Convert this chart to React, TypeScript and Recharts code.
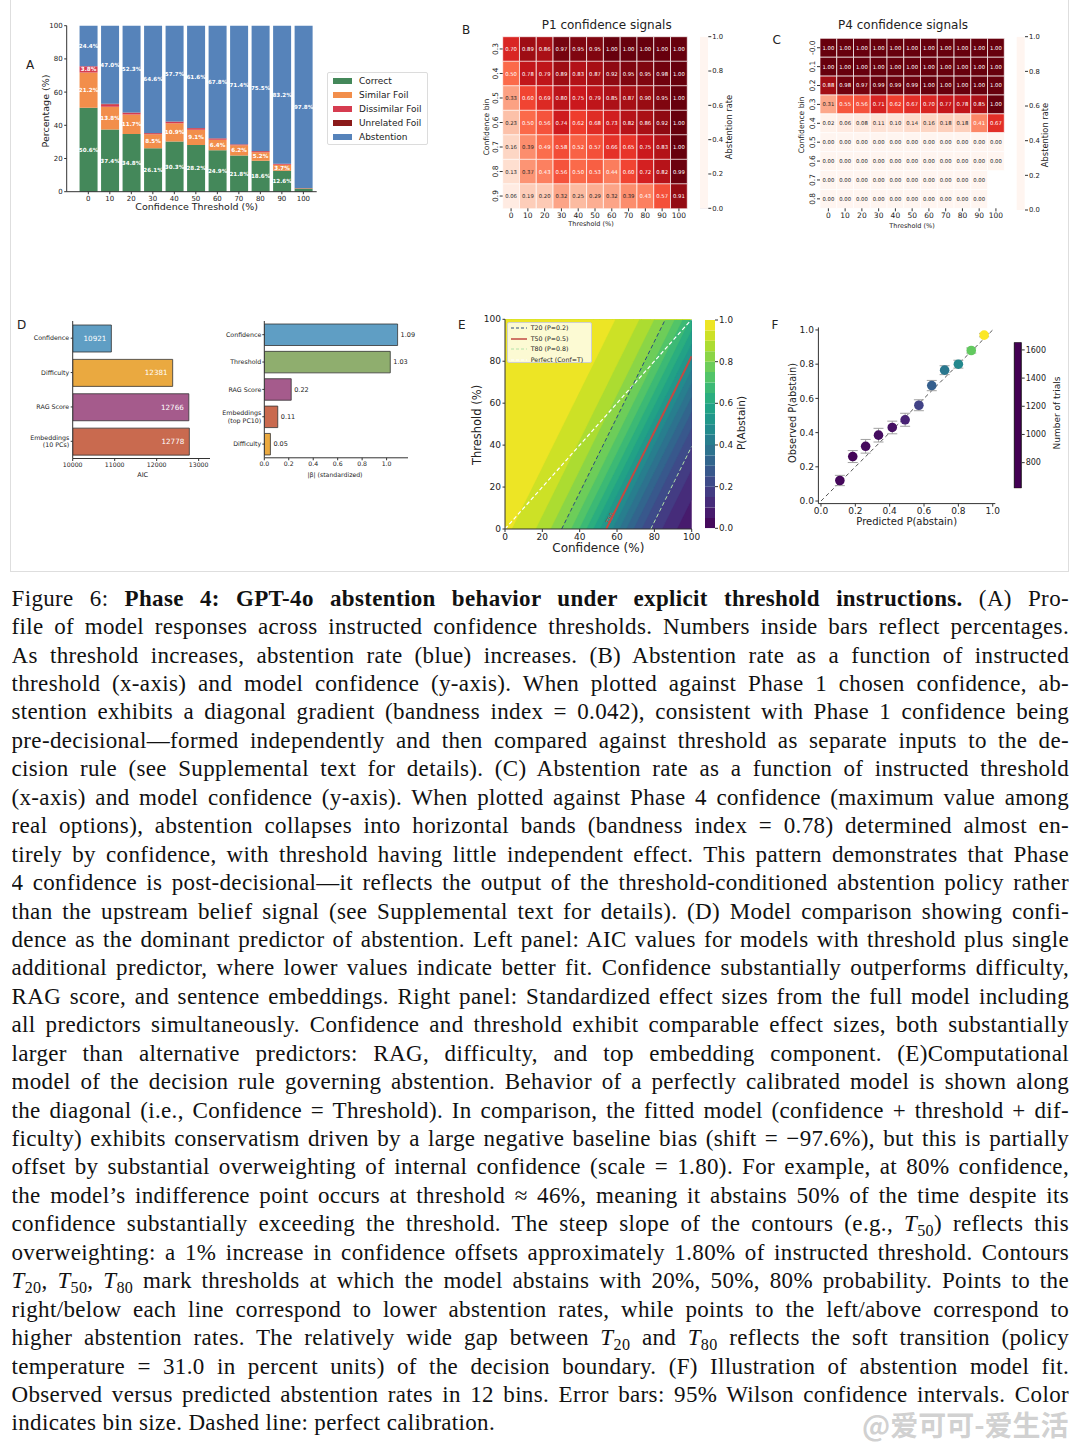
import React from 'react';
import {
  BarChart, Bar, XAxis, YAxis, Cell, LabelList, ComposedChart, Area, Line,
  ScatterChart, Scatter, ErrorBar, ReferenceLine,
} from 'recharts';

const FONT = '"DejaVu Sans", sans-serif';
const INK = '#222';
const AX = '#333';

// ---------------- Panel A data ----------------
const thresholdLevels = [0, 10, 20, 30, 40, 50, 60, 70, 80, 90, 100];
const correctPct = [50.6, 37.4, 34.8, 26.1, 30.3, 28.2, 24.9, 21.8, 18.6, 12.6, 2.0];
const similarFoilPct = [21.2, 13.8, 11.7, 8.5, 10.9, 9.1, 6.4, 6.2, 5.2, 3.7, 0.1];
const dissimilarFoilPct = [3.8, 1.5, 1.0, 0.6, 0.9, 0.9, 0.7, 0.5, 0.5, 0.4, 0.1];
const unrelatedFoilPct = [0.0, 0.3, 0.2, 0.2, 0.2, 0.2, 0.2, 0.1, 0.2, 0.1, 0.0];
const abstentionPct = [24.4, 47.0, 52.3, 64.6, 57.7, 61.6, 67.8, 71.4, 75.5, 83.2, 97.8];
const outcomeNames = ['Correct', 'Similar Foil', 'Dissimilar Foil', 'Unrelated Foil', 'Abstention'];
const outcomeKeys = ['correct', 'similar', 'dissimilar', 'unrelated', 'abstention'];
const outcomeColors = ['#44885a', '#f28e4b', '#d63c50', '#8b1a1a', '#5683ba'];

// ---------------- Panel B / C data ----------------
const p1Bins = ['0.3', '0.4', '0.5', '0.6', '0.7', '0.8', '0.9'];
const p1Rates = [
  [0.70, 0.89, 0.86, 0.97, 0.95, 0.95, 1.00, 1.00, 1.00, 1.00, 1.00],
  [0.50, 0.78, 0.79, 0.89, 0.83, 0.87, 0.92, 0.95, 0.95, 0.98, 1.00],
  [0.33, 0.60, 0.69, 0.80, 0.75, 0.79, 0.85, 0.87, 0.90, 0.95, 1.00],
  [0.23, 0.50, 0.56, 0.74, 0.62, 0.68, 0.73, 0.82, 0.86, 0.92, 1.00],
  [0.16, 0.39, 0.49, 0.58, 0.52, 0.57, 0.66, 0.65, 0.75, 0.83, 1.00],
  [0.13, 0.37, 0.43, 0.56, 0.50, 0.53, 0.44, 0.60, 0.72, 0.82, 0.99],
  [0.06, 0.19, 0.20, 0.32, 0.25, 0.29, 0.32, 0.39, 0.43, 0.57, 0.91],
];
const p4Bins = ['-0.0', '0.1', '0.2', '0.3', '0.4', '0.5', '0.6', '0.7', '0.8'];
const p4Rates = [
  [1.00, 1.00, 1.00, 1.00, 1.00, 1.00, 1.00, 1.00, 1.00, 1.00, 1.00],
  [1.00, 1.00, 1.00, 1.00, 1.00, 1.00, 1.00, 1.00, 1.00, 1.00, 1.00],
  [0.88, 0.98, 0.97, 0.99, 0.99, 0.99, 1.00, 1.00, 1.00, 1.00, 1.00],
  [0.31, 0.55, 0.56, 0.71, 0.62, 0.67, 0.70, 0.77, 0.78, 0.85, 1.00],
  [0.02, 0.06, 0.08, 0.11, 0.10, 0.14, 0.16, 0.18, 0.18, 0.41, 0.67],
  [0.00, 0.00, 0.00, 0.00, 0.00, 0.00, 0.00, 0.00, 0.00, 0.00, 0.00],
  [0.00, 0.00, 0.00, 0.00, 0.00, 0.00, 0.00, 0.00, 0.00, 0.00, 0.00],
  [0.00, 0.00, 0.00, 0.00, 0.00, 0.00, 0.00, 0.00, 0.00, 0.00, null],
  [0.00, 0.00, 0.00, 0.00, 0.00, 0.00, 0.00, 0.00, 0.00, 0.00, null],
];
const rateTicks = [0, 0.2, 0.4, 0.6, 0.8, 1.0];

// ---------------- Panel D data ----------------
const aicPredictors = ['Confidence', 'Difficulty', 'RAG Score', 'Embeddings\n(10 PCs)'];
const aicValues = [10921, 12381, 12766, 12778];
const aicColors = ['#5f9ec4', '#eaa940', '#a55b8c', '#c96a4f'];
const aicTicks = [10000, 11000, 12000, 13000];
const betaPredictors = ['Confidence', 'Threshold', 'RAG Score', 'Embeddings\n(top PC10)', 'Difficulty'];
const betaValues = [1.09, 1.03, 0.22, 0.11, 0.05];
const betaColors = ['#5f9ec4', '#8fae6e', '#a55b8c', '#c96a4f', '#eaa940'];
const betaTicks = [0, 0.2, 0.4, 0.6, 0.8, 1.0];

// ---------------- Panel E model (fitted parameters from the caption) ----------------
const modelShift = -97.6;
const modelScale = 1.8;
const modelTemp = 31.0;
const contourLevels = [0, 0.05, 0.1, 0.15, 0.2, 0.25, 0.3, 0.35, 0.4, 0.45, 0.5, 0.55, 0.6, 0.65, 0.7, 0.75, 0.8, 0.85, 0.9, 0.95, 1];
const namedContours = [0.2, 0.5, 0.8];
const pctTicks = [0, 20, 40, 60, 80, 100];

// ---------------- Panel F data ----------------
const predictedP = [0.11, 0.185, 0.26, 0.335, 0.415, 0.49, 0.57, 0.645, 0.72, 0.80, 0.875, 0.95];
const observedP = [0.12, 0.26, 0.32, 0.385, 0.43, 0.475, 0.56, 0.675, 0.765, 0.80, 0.88, 0.97];
const ciHalfWidth = [0.03, 0.035, 0.04, 0.04, 0.037, 0.038, 0.032, 0.03, 0.026, 0.023, 0.015, 0.01];
const binTrials = [640, 630, 645, 655, 665, 720, 820, 930, 1030, 1100, 1400, 1650];
const trialsRange = [618, 1654];
const trialTicks = [800, 1000, 1200, 1400, 1600];
const probTicks = [0, 0.2, 0.4, 0.6, 0.8, 1.0];

// ---------------- colour maps ----------------
const REDS = ['#fff5f0', '#fee0d2', '#fcbba1', '#fc9272', '#fb6a4a', '#ef3b2c', '#cb181d', '#a50f15', '#67000d'];
const VIRIDIS = ['#440154', '#482475', '#414487', '#355f8d', '#2a788e', '#21918c', '#22a884', '#44bf70', '#7ad151', '#bddf26', '#fde725'];
function hexRgb(h: string) {
  return [parseInt(h.slice(1, 3), 16), parseInt(h.slice(3, 5), 16), parseInt(h.slice(5, 7), 16)];
}
function cmap(stops: string[], t: number) {
  const tt = Math.max(0, Math.min(1, t));
  const n = stops.length - 1;
  const i = Math.min(n - 1, Math.floor(tt * n));
  const f = tt * n - i;
  const a = hexRgb(stops[i]);
  const b = hexRgb(stops[i + 1]);
  const c = a.map((v, k) => Math.round(v + (b[k] - v) * f));
  return `rgb(${c[0]},${c[1]},${c[2]})`;
}
const reds = (t: number) => cmap(REDS, t);
const viridis = (t: number) => cmap(VIRIDIS, t);

// ---------------- helpers ----------------
function Txt({ x, y, size, rot = 0, children, weight = 400, color = INK, family }: any) {
  return (
    <div style={{
      position: 'absolute', left: x, top: y, transform: `translate(-50%,-50%) rotate(${rot}deg)`,
      fontSize: size, lineHeight: 1, whiteSpace: 'nowrap', color, fontWeight: weight, fontFamily: family,
    }}>{children}</div>
  );
}

const tickStyle = (size: number) => ({ fontSize: size, fill: INK, fontFamily: FONT });

// ---------------- Panel A ----------------
const dataA = thresholdLevels.map((t, i) => ({
  t, correct: correctPct[i], similar: similarFoilPct[i], dissimilar: dissimilarFoilPct[i],
  unrelated: unrelatedFoilPct[i], abstention: abstentionPct[i],
}));

function pctLabel(props: any) {
  const { x, y, width, height, value } = props;
  const v = Number(value);
  if (!(v >= 3)) return null;
  return (
    <text x={Number(x) + Number(width) / 2} y={Number(y) + Number(height) / 2} dy="0.35em"
      textAnchor="middle" fontSize={5.6} fill="#fff" fontWeight={600} fontFamily={FONT}>{v.toFixed(1)}%</text>
  );
}

function PanelA() {
  return (
    <>
      <div style={{ position: 'absolute', left: 20, top: 15 }}>
        <BarChart width={310} height={205} data={dataA} margin={{ top: 10.7, right: 13.3, bottom: 0, left: 0 }}>
          <XAxis type="number" dataKey="t" domain={[-10.05, 106.2]} ticks={thresholdLevels} interval={0}
            allowDataOverflow height={28.3} tickSize={2.5} tickMargin={1.5} tick={tickStyle(7)} stroke={AX} />
          <YAxis type="number" domain={[0, 100]} ticks={pctTicks} interval={0} width={46.7}
            tickSize={2.5} tickMargin={1.5} tick={tickStyle(7)} stroke={AX} />
          {outcomeKeys.map((k, i) => (
            <Bar key={k} dataKey={k} stackId="a" fill={outcomeColors[i]} barSize={18} isAnimationActive={false}>
              <LabelList dataKey={k} content={pctLabel} />
            </Bar>
          ))}
        </BarChart>
      </div>
      <Txt x={30} y={65} size={12}>A</Txt>
      <Txt x={46} y={111} size={9.5} rot={-90}>Percentage (%)</Txt>
      <Txt x={196.7} y={207.3} size={9.5}>Confidence Threshold (%)</Txt>
      <div style={{
        position: 'absolute', left: 327, top: 71.7, width: 101, height: 73.3, border: '1px solid #dcdcdc',
        borderRadius: 2, background: '#fff', boxSizing: 'border-box', fontSize: 9, color: INK,
      }}>
        {outcomeNames.map((n, i) => (
          <div key={n} style={{ position: 'absolute', left: 0, top: 8.3 + 13.93 * i - 6, height: 12, width: 99 }}>
            <div style={{ position: 'absolute', left: 4.5, top: 3.3, width: 19, height: 5.6, background: outcomeColors[i] }} />
            <div style={{ position: 'absolute', left: 31, top: 0, lineHeight: '12px', whiteSpace: 'nowrap' }}>{n}</div>
          </div>
        ))}
      </div>
    </>
  );
}

// ---------------- Heatmaps (B, C) ----------------
function RotTick(props: any) {
  const { x, y, payload } = props;
  return (
    <text x={x} y={y} transform={`rotate(-90 ${x} ${y})`} textAnchor="middle" fontSize={7.5} fill={INK} fontFamily={FONT}>
      {payload.value}
    </text>
  );
}

function cellLabel(props: any) {
  const { x, y, width, height, value } = props;
  if (value === null || value === undefined) return null;
  const v = Number(value);
  return (
    <text x={Number(x) + Number(width) / 2} y={Number(y) + Number(height) / 2} dy="0.35em" textAnchor="middle"
      fontSize={5.3} fill={v >= 0.4 ? '#fff' : '#262626'} fontFamily={FONT}>{v.toFixed(2)}</text>
  );
}

function Heatmap({ bins, rates, left, top, width, height, margin, yAxisWidth, xAxisHeight }: any) {
  const data = bins.map((b: string, r: number) => {
    const row: any = { bin: b };
    rates[r].forEach((v: number | null, j: number) => {
      row['c' + j] = v === null ? 0 : 1;
      row['v' + j] = v;
    });
    return row;
  });
  const cellTicks = thresholdLevels.map((_, j) => j + 0.5);
  return (
    <div style={{ position: 'absolute', left, top }}>
      <BarChart layout="vertical" width={width} height={height} data={data} margin={margin} barCategoryGap={0}>
        <XAxis type="number" domain={[0, thresholdLevels.length]} ticks={cellTicks} interval={0}
          tickFormatter={(v: number) => String(thresholdLevels[Math.floor(v)])}
          height={xAxisHeight} axisLine={false} tickSize={3} tickMargin={1.5} tick={tickStyle(7.5)} stroke={AX} />
        <YAxis type="category" dataKey="bin" width={yAxisWidth} axisLine={false} tickSize={3} tickMargin={1.5}
          tick={<RotTick />} stroke={AX} interval={0} />
        {thresholdLevels.map((t, j) => (
          <Bar key={t} dataKey={'c' + j} stackId="h" isAnimationActive={false} stroke="#fff" strokeWidth={0.7}>
            {data.map((row: any, r: number) => (
              <Cell key={r} fill={rates[r][j] === null ? 'transparent' : reds(rates[r][j])}
                stroke={rates[r][j] === null ? 'none' : '#fff'} />
            ))}
            <LabelList dataKey={'v' + j} content={cellLabel} />
          </Bar>
        ))}
      </BarChart>
    </div>
  );
}

function RedsColorBar({ left, top, width, height, margin, axisWidth, id }: any) {
  return (
    <div style={{ position: 'absolute', left, top }}>
      <BarChart width={width} height={height} data={[{ k: 'cb', v: [0, 1] }]} margin={margin} barCategoryGap={0}>
        <defs>
          <linearGradient id={id} x1="0" y1="0" x2="0" y2="1">
            {REDS.map((c, i) => <stop key={i} offset={1 - i / (REDS.length - 1)} stopColor={c} />)}
          </linearGradient>
        </defs>
        <XAxis dataKey="k" hide />
        <YAxis orientation="right" type="number" domain={[0, 1]} ticks={rateTicks} interval={0} width={axisWidth}
          axisLine={false} tickSize={3} tickMargin={1} tickFormatter={(v: number) => v.toFixed(1)}
          tick={tickStyle(6.8)} stroke={AX} allowDataOverflow />
        <Bar dataKey="v" fill={`url(#${id})`} isAnimationActive={false} />
      </BarChart>
    </div>
  );
}

function PanelB() {
  return (
    <>
      <Heatmap bins={p1Bins} rates={p1Rates} left={480} top={30} width={215} height={210}
        margin={{ top: 6.7, right: 7.7, bottom: 0, left: 0 }} yAxisWidth={22.7} xAxisHeight={31.7} />
      <RedsColorBar id="redsB" left={695} top={30} width={50} height={210}
        margin={{ top: 6.7, right: 0, bottom: 31.7, left: 5 }} axisWidth={36.7} />
      <Txt x={466} y={30} size={12}>B</Txt>
      <Txt x={606.7} y={24.5} size={12}>P1 confidence signals</Txt>
      <Txt x={486.7} y={126.7} size={7.6} rot={-90}>Confidence bin</Txt>
      <Txt x={591} y={224.3} size={6.5}>Threshold (%)</Txt>
      <Txt x={729} y={126.7} size={8.3} rot={-90}>Abstention rate</Txt>
    </>
  );
}

function PanelC() {
  return (
    <>
      <Heatmap bins={p4Bins} rates={p4Rates} left={795} top={30} width={215} height={210}
        margin={{ top: 8.3, right: 5.7, bottom: 0, left: 0 }} yAxisWidth={25} xAxisHeight={31.7} />
      <RedsColorBar id="redsC" left={1010} top={30} width={60} height={210}
        margin={{ top: 6.7, right: 0, bottom: 30, left: 6.7 }} axisWidth={45} />
      <Txt x={776.7} y={40} size={12}>C</Txt>
      <Txt x={903} y={24.5} size={12}>P4 confidence signals</Txt>
      <Txt x={801.7} y={125} size={7.6} rot={-90}>Confidence bin</Txt>
      <Txt x={912} y={225.7} size={6.5}>Threshold (%)</Txt>
      <Txt x={1045} y={135} size={8.3} rot={-90}>Abstention rate</Txt>
    </>
  );
}

// ---------------- Panel D ----------------
function MultiTick(props: any) {
  const { x, y, payload } = props;
  const lines = String(payload.value).split('\n');
  const lh = 7.4;
  return (
    <text x={x} y={y} textAnchor="end" fontSize={6.3} fill={INK} fontFamily={FONT}>
      {lines.map((l, i) => (
        <tspan key={i} x={x} dy={i === 0 ? -((lines.length - 1) * lh) / 2 + 2.2 : lh}>{l}</tspan>
      ))}
    </text>
  );
}

function PanelD() {
  const aicBase = aicTicks[0];
  const dataL = aicPredictors.map((p, i) => ({ p, range: [aicBase, aicValues[i]], v: aicValues[i] }));
  const dataR = betaPredictors.map((p, i) => ({ p, v: betaValues[i] }));
  return (
    <>
      <div style={{ position: 'absolute', left: 10, top: 310 }}>
        <BarChart layout="vertical" width={210} height={175} data={dataL} margin={{ top: 11, right: 10, bottom: 0, left: 0 }}>
          <XAxis type="number" domain={[10000, 13270]} ticks={aicTicks} interval={0} allowDataOverflow height={26.5}
            tickSize={2.5} tickMargin={1.5} tick={tickStyle(6.2)} stroke={AX} />
          <YAxis type="category" dataKey="p" width={62.7} tickSize={2} tickMargin={1.5} tick={<MultiTick />} stroke={AX} interval={0} />
          <Bar dataKey="range" barSize={27} stroke="#333" strokeWidth={0.8} isAnimationActive={false}>
            {dataL.map((d, i) => <Cell key={i} fill={aicColors[i]} />)}
            <LabelList dataKey="v" position="insideRight" offset={5} fill="#fff" fontSize={7.2} fontFamily={FONT} />
          </Bar>
        </BarChart>
      </div>
      <div style={{ position: 'absolute', left: 210, top: 310 }}>
        <BarChart layout="vertical" width={210} height={175} data={dataR} margin={{ top: 11, right: 12, bottom: 0, left: 0 }}>
          <XAxis type="number" domain={[0, 1.175]} ticks={betaTicks} interval={0} allowDataOverflow height={27.2}
            tickFormatter={(v: number) => v.toFixed(1)} tickSize={2.5} tickMargin={1.5} tick={tickStyle(6.2)} stroke={AX} />
          <YAxis type="category" dataKey="p" width={54.3} tickSize={2} tickMargin={1} tick={<MultiTick />} stroke={AX} interval={0} />
          <Bar dataKey="v" barSize={21.5} stroke="#333" strokeWidth={0.8} isAnimationActive={false}>
            {dataR.map((d, i) => <Cell key={i} fill={betaColors[i]} />)}
            <LabelList dataKey="v" position="right" offset={3} fill={INK} fontSize={6.5} fontFamily={FONT}
              formatter={(v: any) => Number(v).toFixed(2)} />
          </Bar>
        </BarChart>
      </div>
      <Txt x={21.7} y={325} size={12}>D</Txt>
      <Txt x={142.7} y={475} size={6.5}>AIC</Txt>
      <Txt x={335} y={475} size={6.2}>|β| (standardized)</Txt>
    </>
  );
}

// ---------------- Panel E ----------------
const logit = (p: number) => Math.log(p / (1 - p));
const boundaryT = (c: number, p: number) => modelScale * c + modelShift + modelTemp * logit(p);
const crossC = (t: number, p: number) => (t - modelShift - modelTemp * logit(p)) / modelScale;

function buildE() {
  const ps = [...contourLevels.slice(1, -1), ...namedContours];
  const grid = new Set<number>([0, 100]);
  ps.forEach((p) => [0, 100].forEach((t) => {
    const c = crossC(t, p);
    if (c > 0 && c < 100) grid.add(Number(c.toFixed(6)));
  }));
  const cs = Array.from(grid).sort((a, b) => a - b);
  const onPlot = (t: number) => (t >= -1e-6 && t <= 100 + 1e-6 ? Math.max(0, Math.min(100, t)) : null);
  return cs.map((c) => {
    const row: any = { c };
    for (let k = 0; k < contourLevels.length - 1; k++) {
      const lo = k === 0 ? 0 : Math.max(0, Math.min(100, boundaryT(c, contourLevels[k])));
      row['b' + k] = [lo, 100];
    }
    row.lower = onPlot(boundaryT(c, namedContours[0]));
    row.mid = onPlot(boundaryT(c, namedContours[1]));
    row.upper = onPlot(boundaryT(c, namedContours[2]));
    row.perfect = c;
    return row;
  });
}
const dataE = buildE();
const bandColors = contourLevels.slice(0, -1).map((l, k) => viridis((k + 0.5) / (contourLevels.length - 1)));
const DARK_DASH = '#2b4c7e';
const LIGHT_DASH = '#b4e2aa';
const T50_RED = '#c24a43';

function PanelE() {
  const cbRow: any = { k: 'cb' };
  bandColors.forEach((_, k) => { cbRow['s' + k] = contourLevels[k + 1] - contourLevels[k]; });
  return (
    <>
      <div style={{ position: 'absolute', left: 460, top: 310 }}>
        <ComposedChart width={240} height={250} data={dataE} margin={{ top: 9.3, right: 8.3, bottom: 0, left: 0 }}>
          <XAxis type="number" dataKey="c" domain={[0, 100]} ticks={pctTicks} interval={0} allowDataOverflow height={31}
            tickSize={3} tickMargin={1.5} tick={tickStyle(9)} stroke={AX} />
          <YAxis type="number" domain={[0, 100]} ticks={pctTicks} interval={0} allowDataOverflow width={45}
            tickSize={2.5} tickMargin={1.5} tick={tickStyle(9)} stroke={AX} />
          {bandColors.map((col, k) => (
            <Area key={k} type="linear" dataKey={'b' + k} stroke={col} strokeWidth={0.4} fill={col} fillOpacity={1}
              isAnimationActive={false} dot={false} activeDot={false} />
          ))}
          <Line type="linear" dataKey="perfect" stroke="#ffffff" strokeWidth={1.2} strokeDasharray="4 2.5"
            dot={false} activeDot={false} isAnimationActive={false} />
          <Line type="linear" dataKey="upper" stroke={DARK_DASH} strokeWidth={1} strokeDasharray="4 2.5"
            dot={false} activeDot={false} isAnimationActive={false} connectNulls={false} />
          <Line type="linear" dataKey="lower" stroke={LIGHT_DASH} strokeWidth={1} strokeDasharray="4 2.5"
            dot={false} activeDot={false} isAnimationActive={false} connectNulls={false} />
          <Line type="linear" dataKey="mid" stroke={T50_RED} strokeWidth={2} dot={false} activeDot={false}
            isAnimationActive={false} connectNulls={false} />
        </ComposedChart>
      </div>
      <div style={{ position: 'absolute', left: 700, top: 310 }}>
        <BarChart width={60} height={250} data={[cbRow]} margin={{ top: 10, right: 0, bottom: 31.7, left: 5 }} barCategoryGap={0}>
          <XAxis dataKey="k" hide />
          <YAxis orientation="right" type="number" domain={[0, 1]} ticks={rateTicks} interval={0} width={45}
            allowDataOverflow axisLine={false} tickSize={3} tickMargin={1} tickFormatter={(v: number) => v.toFixed(1)}
            tick={tickStyle(8.8)} stroke={AX} />
          {bandColors.map((col, k) => (
            <Bar key={k} dataKey={'s' + k} stackId="cb" fill={col} isAnimationActive={false} />
          ))}
        </BarChart>
      </div>
      <Txt x={461.7} y={325} size={12}>E</Txt>
      <Txt x={478} y={425} size={11.5} rot={-90}>Threshold (%)</Txt>
      <Txt x={598.3} y={548.3} size={12}>Confidence (%)</Txt>
      <Txt x={741} y={423.3} size={10.5} rot={-90}>P(Abstain)</Txt>
      <Txt x={610} y={518} size={6} rot={-63.7} color={T50_RED}>T50</Txt>
      <div style={{
        position: 'absolute', left: 506.7, top: 321.7, width: 85, height: 41.6, background: 'rgba(255,255,255,0.8)',
        border: '1px solid #cfcfcf', borderRadius: 2, boxSizing: 'border-box', fontSize: 6.3, color: INK,
      }}>
        {[
          { n: 'T20 (P=0.2)', c: DARK_DASH, d: '3 2', w: 1 },
          { n: 'T50 (P=0.5)', c: T50_RED, d: '', w: 1.5 },
          { n: 'T80 (P=0.8)', c: LIGHT_DASH, d: '3 2', w: 1 },
          { n: 'Perfect (Conf=T)', c: '#ffffff', d: '3 2', w: 1 },
        ].map((e, i) => (
          <div key={e.n} style={{ position: 'absolute', left: 0, top: 5.3 + 10.7 * i - 5, height: 10, width: 84 }}>
            <svg width={18} height={10} style={{ position: 'absolute', left: 2.5, top: 0 }}>
              <line x1={1} y1={5} x2={17} y2={5} stroke={e.c} strokeWidth={e.w} strokeDasharray={e.d} />
            </svg>
            <div style={{ position: 'absolute', left: 23, top: 0, lineHeight: '10px', whiteSpace: 'nowrap' }}>{e.n}</div>
          </div>
        ))}
      </div>
    </>
  );
}

// ---------------- Panel F ----------------
function PanelF() {
  const dataF = predictedP.map((x, i) => ({ x, y: observedP[i], err: ciHalfWidth[i], n: binTrials[i] }));
  const norm = (n: number) => (n - trialsRange[0]) / (trialsRange[1] - trialsRange[0]);
  return (
    <>
      <div style={{ position: 'absolute', left: 765, top: 315 }}>
        <ScatterChart width={250} height={225} margin={{ top: 12.4, right: 19.7, bottom: 0, left: 0 }}>
          <XAxis type="number" dataKey="x" domain={[-0.015, 1.015]} ticks={probTicks} interval={0} allowDataOverflow
            height={36.4} tickFormatter={(v: number) => v.toFixed(1)} tickSize={3} tickMargin={1.5} tick={tickStyle(9)} stroke={AX} />
          <YAxis type="number" dataKey="y" domain={[-0.015, 1.015]} ticks={probTicks} interval={0} allowDataOverflow
            width={53.4} tickFormatter={(v: number) => v.toFixed(1)} tickSize={3} tickMargin={1.5} tick={tickStyle(9)} stroke={AX} />
          <ReferenceLine segment={[{ x: 0, y: 0 }, { x: 1, y: 1 }]} stroke="#555" strokeDasharray="4 3" strokeWidth={1} />
          <Scatter data={dataF} isAnimationActive={false}
            shape={(p: any) => <circle cx={p.cx} cy={p.cy} r={4.8} fill={viridis(norm(p.payload.n))} />}>
            <ErrorBar dataKey="err" direction="y" width={5} stroke="#a0a0a0" strokeWidth={1} />
          </Scatter>
        </ScatterChart>
      </div>
      <div style={{ position: 'absolute', left: 1010, top: 335 }}>
        <BarChart width={70} height={160} data={[{ k: 'cb', v: trialsRange }]} margin={{ top: 7.3, right: 0, bottom: 6.7, left: 4.3 }} barCategoryGap={0}>
          <defs>
            <linearGradient id="virF" x1="0" y1="0" x2="0" y2="1">
              {VIRIDIS.map((c, i) => <stop key={i} offset={1 - i / (VIRIDIS.length - 1)} stopColor={c} />)}
            </linearGradient>
          </defs>
          <XAxis dataKey="k" hide />
          <YAxis orientation="right" type="number" domain={trialsRange} ticks={trialTicks} interval={0} width={58.3}
            allowDataOverflow axisLine={false} tickSize={3} tickMargin={1} tick={tickStyle(8)} stroke={AX} />
          <Bar dataKey="v" fill="url(#virF)" stroke="#000" strokeWidth={0.8} isAnimationActive={false} />
        </BarChart>
      </div>
      <Txt x={775} y={325} size={12}>F</Txt>
      <Txt x={793.3} y={413.3} size={9.8} rot={-90}>Observed P(abstain)</Txt>
      <Txt x={906.7} y={522.3} size={10}>Predicted P(abstain)</Txt>
      <Txt x={1056.7} y={413.3} size={9} rot={-90}>Number of trials</Txt>
    </>
  );
}

// ---------------- Caption ----------------
const Ts = ({ n }: any) => (
  <span><i>T</i><span style={{ fontSize: '0.7em', position: 'relative', top: '0.28em' }}>{n}</span></span>
);

const captionLines: React.ReactNode[] = [
  <>Figure 6: <b>Phase 4: GPT-4o abstention behavior under explicit threshold instructions.</b> (A) Pro-</>,
  <>file of model responses across instructed confidence thresholds. Numbers inside bars reflect percentages.</>,
  <>As threshold increases, abstention rate (blue) increases. (B) Abstention rate as a function of instructed</>,
  <>threshold (x-axis) and model confidence (y-axis). When plotted against Phase 1 chosen confidence, ab-</>,
  <>stention exhibits a diagonal gradient (bandness index = 0.042), consistent with Phase 1 confidence being</>,
  <>pre-decisional—formed independently and then compared against threshold as separate inputs to the de-</>,
  <>cision rule (see Supplemental text for details). (C) Abstention rate as a function of instructed threshold</>,
  <>(x-axis) and model confidence (y-axis). When plotted against Phase 4 confidence (maximum value among</>,
  <>real options), abstention collapses into horizontal bands (bandness index = 0.78) determined almost en-</>,
  <>tirely by confidence, with threshold having little independent effect. This pattern demonstrates that Phase</>,
  <>4 confidence is post-decisional—it reflects the output of the threshold-conditioned abstention policy rather</>,
  <>than the upstream belief signal (see Supplemental text for details). (D) Model comparison showing confi-</>,
  <>dence as the dominant predictor of abstention. Left panel: AIC values for models with threshold plus single</>,
  <>additional predictor, where lower values indicate better fit. Confidence substantially outperforms difficulty,</>,
  <>RAG score, and sentence embeddings. Right panel: Standardized effect sizes from the full model including</>,
  <>all predictors simultaneously. Confidence and threshold exhibit comparable effect sizes, both substantially</>,
  <>larger than alternative predictors: RAG, difficulty, and top embedding component. (E)Computational</>,
  <>model of the decision rule governing abstention. Behavior of a perfectly calibrated model is shown along</>,
  <>the diagonal (i.e., Confidence = Threshold). In comparison, the fitted model (confidence + threshold + dif-</>,
  <>ficulty) exhibits conservatism driven by a large negative baseline bias (shift = −97.6%), but this is partially</>,
  <>offset by substantial overweighting of internal confidence (scale = 1.80). For example, at 80% confidence,</>,
  <>the model’s indifference point occurs at threshold ≈ 46%, meaning it abstains 50% of the time despite its</>,
  <>confidence substantially exceeding the threshold. The steep slope of the contours (e.g., <Ts n="50" />) reflects this</>,
  <>overweighting: a 1% increase in confidence offsets approximately 1.80% of instructed threshold. Contours</>,
  <><Ts n="20" />, <Ts n="50" />, <Ts n="80" /> mark thresholds at which the model abstains with 20%, 50%, 80% probability. Points to the</>,
  <>right/below each line correspond to lower abstention rates, while points to the left/above correspond to</>,
  <>higher abstention rates. The relatively wide gap between <Ts n="20" /> and <Ts n="80" /> reflects the soft transition (policy</>,
  <>temperature = 31.0 in percent units) of the decision boundary. (F) Illustration of abstention model fit.</>,
  <>Observed versus predicted abstention rates in 12 bins. Error bars: 95% Wilson confidence intervals. Color</>,
  <>indicates bin size. Dashed line: perfect calibration.</>,
];

function Caption() {
  return (
    <div style={{
      position: 'absolute', left: 11.5, top: 584.7, width: 1057.5, fontFamily: '"Liberation Serif", serif',
      fontSize: 23, letterSpacing: 0.35, color: '#111',
    }}>
      {captionLines.map((ln, i) => (
        <div key={i} style={{
          height: 28.45, lineHeight: '28.45px', overflow: 'hidden', textAlign: 'justify',
          textAlignLast: i === captionLines.length - 1 ? 'left' : 'justify',
        } as any}>{ln}</div>
      ))}
    </div>
  );
}

export default function App() {
  return (
    <div style={{
      position: 'absolute', left: 0, top: 0, width: 1080, height: 1444, background: '#fff',
      overflow: 'hidden', fontFamily: FONT, color: INK,
    }}>
      <div style={{
        position: 'absolute', left: 10, top: -1, width: 1059, height: 572.7, border: '1px solid #dedede',
        boxSizing: 'border-box',
      }} />
      <PanelA />
      <PanelB />
      <PanelC />
      <PanelD />
      <PanelE />
      <PanelF />
      <Caption />
      <div style={{
        position: 'absolute', left: 862, top: 1404, fontSize: 28, color: 'rgba(170,170,170,0.55)',
        fontFamily: '"Noto Sans CJK SC", sans-serif', whiteSpace: 'nowrap', fontWeight: 700,
      }}>@爱可可-爱生活</div>
    </div>
  );
}
